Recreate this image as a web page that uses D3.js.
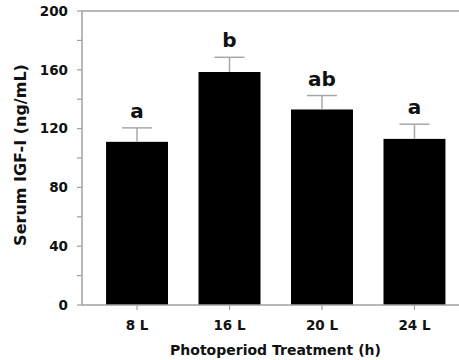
<!DOCTYPE html>
<html>
<head>
<meta charset="utf-8">
<script src="https://cdn.jsdelivr.net/npm/d3@7"></script>
<style>
  body { margin: 0; background: #fff; }
  text { font-family: "DejaVu Sans", Arial, sans-serif; font-weight: bold; fill: #111; }
</style>
</head>
<body>
<svg id="chart" width="459" height="360"></svg>
<script>
// data
const groups = ['8 L', '16 L', '20 L', '24 L']
const means = [111, 158.5, 133, 113]
const errs = [9.5, 10, 9.5, 10]
const letters = ['a', 'b', 'ab', 'a']
const yTicks = [0, 40, 80, 120, 160, 200]
const yMinor = [20, 60, 100, 140, 180]

const svg = d3.select('#chart')
const plotL = 82, plotR = 459, plotT = 11, plotB = 305

const x = d3.scaleBand()
  .domain(groups)
  .range([plotL, 469.5])
  .paddingInner(0.33)
  .paddingOuter(0.26)

const y = d3.scaleLinear().domain([0, 200]).range([plotB, plotT])

const axisColor = '#a0a0a0'

// bars
svg.selectAll('rect.bar')
  .data(groups)
  .enter().append('rect')
  .attr('class', 'bar')
  .attr('x', d => x(d))
  .attr('width', x.bandwidth())
  .attr('y', (d, i) => y(means[i]))
  .attr('height', (d, i) => plotB - y(means[i]))
  .attr('fill', '#000')

// error bars (only upper half shows)
const eb = svg.selectAll('g.err')
  .data(groups)
  .enter().append('g')
  .attr('class', 'err')
  .attr('stroke', '#a8a8a8')
  .attr('stroke-width', 1.5)

eb.append('line')
  .attr('x1', d => x(d) + x.bandwidth() / 2)
  .attr('x2', d => x(d) + x.bandwidth() / 2)
  .attr('y1', (d, i) => y(means[i]))
  .attr('y2', (d, i) => y(means[i] + errs[i]))

eb.append('line')
  .attr('x1', d => x(d) + x.bandwidth() / 2 - 15)
  .attr('x2', d => x(d) + x.bandwidth() / 2 + 15)
  .attr('y1', (d, i) => y(means[i] + errs[i]))
  .attr('y2', (d, i) => y(means[i] + errs[i]))

// significance letters
svg.selectAll('text.sig')
  .data(groups)
  .enter().append('text')
  .attr('class', 'sig')
  .attr('x', d => x(d) + x.bandwidth() / 2)
  .attr('y', (d, i) => y(means[i] + errs[i]) - 10)
  .attr('text-anchor', 'middle')
  .style('font-size', '20px')
  .text((d, i) => letters[i])

// frame lines
svg.append('line')
  .attr('x1', plotL).attr('x2', plotR).attr('y1', plotT).attr('y2', plotT)
  .attr('stroke', axisColor).attr('stroke-width', 1.5)
svg.append('line')
  .attr('x1', plotL).attr('x2', plotR).attr('y1', plotB).attr('y2', plotB)
  .attr('stroke', axisColor).attr('stroke-width', 1.5)
svg.append('line')
  .attr('x1', plotL).attr('x2', plotL).attr('y1', plotT).attr('y2', plotB)
  .attr('stroke', axisColor).attr('stroke-width', 1.5)

// y ticks
svg.selectAll('line.ytick')
  .data(yTicks.concat(yMinor))
  .enter().append('line')
  .attr('x1', plotL - 5).attr('x2', plotL)
  .attr('y1', d => y(d)).attr('y2', d => y(d))
  .attr('stroke', axisColor).attr('stroke-width', 1.2)

svg.selectAll('text.ylab')
  .data(yTicks)
  .enter().append('text')
  .attr('x', 68)
  .attr('y', d => y(d))
  .attr('dy', '0.36em')
  .attr('text-anchor', 'end')
  .style('font-size', '13.5px')
  .text(d => d)

// x ticks
svg.selectAll('line.xtick')
  .data(groups)
  .enter().append('line')
  .attr('x1', d => x(d) + x.bandwidth() / 2)
  .attr('x2', d => x(d) + x.bandwidth() / 2)
  .attr('y1', plotB).attr('y2', plotB + 5)
  .attr('stroke', axisColor).attr('stroke-width', 1.2)

svg.selectAll('text.xlab')
  .data(groups)
  .enter().append('text')
  .attr('x', d => x(d) + x.bandwidth() / 2)
  .attr('y', 330)
  .attr('text-anchor', 'middle')
  .style('font-size', '13.5px')
  .text(d => d)

// axis titles
svg.append('text')
  .attr('x', 275.5)
  .attr('y', 355)
  .attr('text-anchor', 'middle')
  .style('font-size', '14px')
  .text('Photoperiod Treatment (h)')

svg.append('text')
  .attr('transform', 'translate(26,' + ((plotT + plotB) / 2 - 3) + ') rotate(-90)')
  .attr('text-anchor', 'middle')
  .style('font-size', '16px')
  .text('Serum IGF-I (ng/mL)')
</script>
</body>
</html>
